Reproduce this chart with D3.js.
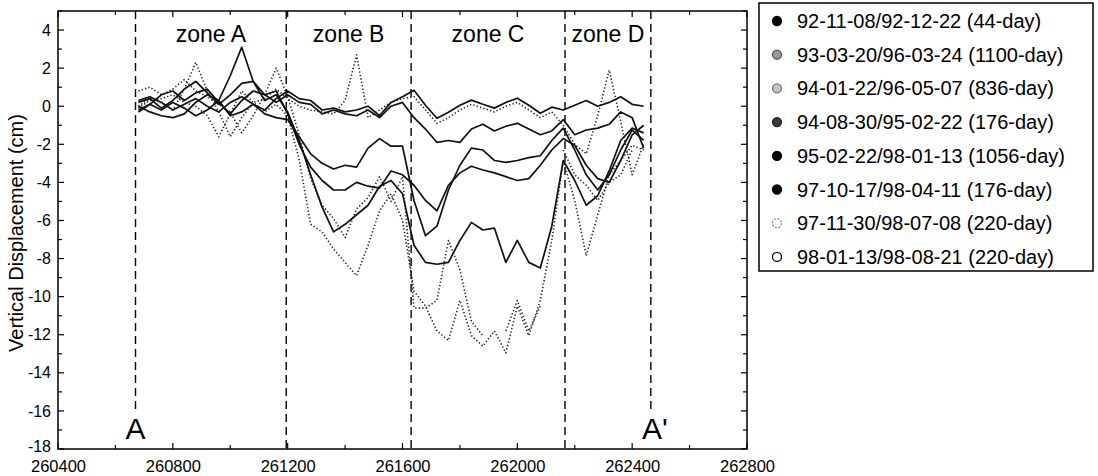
<!DOCTYPE html>
<html>
<head>
<meta charset="utf-8">
<script src="https://cdn.jsdelivr.net/npm/d3@7"></script>
<style>
  body { margin: 0; background: #fff; }
  text { font-family: "Liberation Sans", Arial, sans-serif; fill: #000; }
</style>
</head>
<body>
<script>
// Distance along the profile (m), one sample every 40 m
const distance = d3.range(260680, 262441, 40);

// Vertical displacement (cm) for each interferogram pair
const s1 = [0.3, 0.5, 0.2, -0.2, 0.1, 0.4, 0.0, -0.3, 0.2, 0.5, 0.1, -0.2, 0.4,
  0.8, 0.4, 0.3, -0.2, -0.1, -0.3, -0.2, 0.0, -0.5, 0.2, 0.5,
  0.84, 0.05, -0.63, -0.32, 0.05, 0.32, 0.1, -0.1, 0.2, 0.42, 0.05, -0.37, -0.05, -0.2,
  0.05, 0.3, 0.0, 0.2, 0.5, 0.1, 0.0];
const s2 = [-0.1, 0.3, 0.4, 0.6, 0.2, 0.0, -0.5, -1.6, -0.4, 0.8, 0.2, -0.3, 0.1,
  -0.5, -2.8, -6.2, -6.6, -7.5, -8.2, -8.9, -7.3, -5.5, -4.6, -6.0,
  -9.7, -10.5, -11.8, -12.3, -10.2, -12.05, -12.6, -11.8, -12.95, -10.5, -12.05, -10.2, -7.05, -2.85,
  -4.95, -7.85, -5.7, -3.6, -2.85, -2.05, -2.3];
const s3 = [0.8, 1.0, 0.6, 0.9, 1.4, 0.8, 0.5, 0.1, -0.3, -1.4, -0.5, 0.6, 2.0,
  0.5, -1.5, -3.8, -5.2, -5.9, -6.9, -5.4, -4.8, -3.7, -5.0, -3.7,
  -10.6, -10.6, -10.2, -7.05, -8.6, -11.3, -12.05, null, -11.8, -10.2, -11.8, -10.5, null, -2.3,
  -3.6, -4.15, -4.95, -4.0, -3.6, -2.3, null];
const s4 = [0.2, 0.4, -0.1, 0.3, 0.9, 1.3, 0.7, 0.1, 0.6, 1.2, 1.3, 0.6, 0.8,
  -0.4, -2.0, -3.2, -3.9, -4.4, -4.4, -4.0, -4.2, -4.3, -3.4, -3.6,
  -4.15, -4.95, -5.5, -4.15, -3.5, -3.15, -3.35, -3.5, -3.7, -3.9, -3.8, -3.1, -2.3, -1.7,
  -2.05, -3.1, -3.8, -4.0, -2.85, -1.5, -1.0];
const s5 = [-0.3, 0.1, -0.2, 0.2, -0.1, -0.5, -0.2, 0.3, 1.6, 3.1, 1.3, 0.3, 0.6,
  -0.3, -1.8, -3.6, -5.3, -6.6, -6.2, -5.7, -5.2, -4.2, -3.9, -4.6,
  -7.3, -8.2, -8.3, -8.2, -7.05, -6.1, -6.5, -6.4, -8.2, -7.05, -8.2, -8.5, -6.3, -2.85,
  -3.9, -5.2, -4.7, -3.4, -1.8, -1.15, -1.4];
const s6 = [0.0, -0.3, -0.5, -0.6, -0.4, 0.2, 0.6, 0.3, -0.5, -0.3, 0.1, -0.4, -0.6,
  -0.7, -1.6, -2.5, -3.0, -3.3, -3.1, -3.2, -2.2, -1.7, -2.1, -2.1,
  -4.95, -6.8, -6.3, -4.4, -3.1, -2.2, -2.3, -2.85, -2.95, -2.85, -2.7, -2.6, -1.8, -1.15,
  -2.3, -3.6, -4.4, -3.6, -2.3, -1.25, -1.8];
const s7 = [0.0, 0.4, 0.2, -0.2, 0.9, 2.3, 0.8, -0.3, -1.6, -0.6, 0.2, 0.4, 0.9,
  0.4, 0.0, -0.2, -0.3, -0.4, 0.3, 2.7, -0.6, -0.2, 0.2, 0.4,
  0.5, -0.2, -0.9, -0.6, -0.2, 0.1, -0.1, -0.3, 0.0, 0.2, -0.2, -0.6, -0.3, -1.0,
  -2.0, -2.5, -0.5, 1.9, -0.8, -3.6, -2.0];
const s8 = [-0.2, 0.1, 0.6, 0.8, 0.3, 0.7, 0.9, 0.2, -0.4, 0.3, 0.8, 0.6, 0.2,
  0.6, 0.2, 0.1, -0.4, -0.2, -0.4, -0.5, -0.2, -0.6, 0.0, 0.2,
  -0.6, -1.2, -1.9, -1.8, -1.9, -1.2, -0.95, -1.3, -1.05, -0.9, -1.2, -1.5, -1.3, -0.7,
  -1.5, -1.25, -1.15, -0.95, -0.3, -0.6, -2.2];

const seriesValues = [s1, s2, s3, s4, s5, s6, s7, s8];
const seriesLabels = [
  "92-11-08/92-12-22 (44-day)",
  "93-03-20/96-03-24 (1100-day)",
  "94-01-22/96-05-07 (836-day)",
  "94-08-30/95-02-22 (176-day)",
  "95-02-22/98-01-13 (1056-day)",
  "97-10-17/98-04-11 (176-day)",
  "97-11-30/98-07-08 (220-day)",
  "98-01-13/98-08-21 (220-day)"
];

// Zone boundaries and profile ends (m)
const profileEnds = [260670, 262465];
const zoneBounds = [260670, 261195, 261630, 262166, 262465];
const zoneNames = ["zone A", "zone B", "zone C", "zone D"];

// Axis ticks
const xTicks = [260400, 260800, 261200, 261600, 262000, 262400, 262800];
const xMinor = d3.range(260400, 262801, 200);
const yTicks = d3.range(-18, 5, 2);
const yMinor = d3.range(-18, 6, 1);

// Line and marker styles per series
const dotted = [false, true, true, false, false, false, true, false];
const markerFill = ["#000", "#9a9a9a", "#c4c4c4", "#3a3a3a", "#000", "#000", "#fff", "#fff"];
const markerStroke = ["#000", "#555", "#777", "#222", "#000", "#000", "#888", "#000"];

const width = 1098;
const height = 476;
const plotLeft = 58, plotRight = 747, plotTop = 11, plotBottom = 449;

const svg = d3.select("body")
  .append("svg")
  .attr("width", width)
  .attr("height", height);

const x = d3.scaleLinear().domain([260400, 262800]).range([plotLeft, plotRight]);
const y = d3.scaleLinear().domain([-18, 5]).range([plotBottom, plotTop]);

// Inward ticks on all four sides
const tickGroup = svg.append("g").attr("stroke", "#000").attr("stroke-width", 1.2);
xMinor.forEach(v => {
  const len = xTicks.includes(v) ? 6 : 4;
  tickGroup.append("line").attr("x1", x(v)).attr("x2", x(v)).attr("y1", plotBottom).attr("y2", plotBottom - len);
  tickGroup.append("line").attr("x1", x(v)).attr("x2", x(v)).attr("y1", plotTop).attr("y2", plotTop + len);
});
yMinor.forEach(v => {
  const len = yTicks.includes(v) ? 6 : 4;
  tickGroup.append("line").attr("x1", plotLeft).attr("x2", plotLeft + len).attr("y1", y(v)).attr("y2", y(v));
  tickGroup.append("line").attr("x1", plotRight).attr("x2", plotRight - len).attr("y1", y(v)).attr("y2", y(v));
});

// Axes with labels
const xAxis = svg.append("g")
  .attr("transform", `translate(0,${plotBottom})`)
  .call(d3.axisBottom(x).tickValues(xTicks).tickSize(0).tickPadding(11).tickFormat(d3.format("d")));
xAxis.select(".domain").remove();
xAxis.selectAll("text").style("font-size", "16.5px").attr("font-family", null);

const yAxis = svg.append("g")
  .attr("transform", `translate(${plotLeft},0)`)
  .call(d3.axisLeft(y).tickValues(yTicks).tickSize(0).tickPadding(7).tickFormat(d => String(d)));
yAxis.select(".domain").remove();
yAxis.selectAll("text").style("font-size", "16px").attr("font-family", null)
  .attr("dy", d => d === -18 ? "0.15em" : "0.32em");

// Frame
svg.append("rect")
  .attr("x", plotLeft).attr("y", plotTop)
  .attr("width", plotRight - plotLeft).attr("height", plotBottom - plotTop)
  .attr("fill", "none").attr("stroke", "#000").attr("stroke-width", 1.5);

// Zone boundaries
svg.selectAll(".zone-line")
  .data(zoneBounds)
  .enter()
  .append("line")
  .attr("x1", d => x(d)).attr("x2", d => x(d))
  .attr("y1", plotTop)
  .attr("y2", d => profileEnds.includes(d) ? 412 : plotBottom)
  .attr("stroke", "#000")
  .attr("stroke-width", 1.4)
  .attr("stroke-dasharray", "8,5");

svg.selectAll(".zone-name")
  .data(zoneNames)
  .enter()
  .append("text")
  .attr("x", (d, i) => (x(zoneBounds[i]) + x(zoneBounds[i + 1])) / 2)
  .attr("y", 42)
  .attr("text-anchor", "middle")
  .style("font-size", "23px")
  .text(d => d);

// Profile end labels
svg.append("text").attr("x", x(profileEnds[0])).attr("y", 439)
  .attr("text-anchor", "middle").style("font-size", "30px").text("A");
svg.append("text").attr("x", x(profileEnds[1]) + 4).attr("y", 439)
  .attr("text-anchor", "middle").style("font-size", "30px").text("A'");

// Displacement profiles
const line = d3.line()
  .defined(d => d[1] != null)
  .x(d => x(d[0]))
  .y(d => y(d[1]));

seriesValues.forEach((vals, i) => {
  svg.append("path")
    .datum(distance.map((dx, j) => [dx, vals[j]]))
    .attr("d", line)
    .attr("fill", "none")
    .attr("stroke", dotted[i] ? "#222" : "#111")
    .attr("stroke-width", dotted[i] ? 1.6 : 1.7)
    .attr("stroke-dasharray", dotted[i] ? "1.3,2.2" : null)
    .attr("stroke-linejoin", "round");
});

// Y axis title
svg.append("text")
  .attr("transform", `translate(23,${(plotTop + plotBottom) / 2 + 3}) rotate(-90)`)
  .attr("text-anchor", "middle")
  .style("font-size", "20px")
  .text("Vertical Displacement (cm)");

// Legend
const legend = svg.append("g");
legend.append("rect")
  .attr("x", 759).attr("y", 3)
  .attr("width", 334).attr("height", 268)
  .attr("fill", "#fff").attr("stroke", "#000").attr("stroke-width", 1.5);

const items = legend.selectAll(".item")
  .data(seriesLabels)
  .enter()
  .append("g")
  .attr("transform", (d, i) => `translate(0,${21 + i * 33.7})`);

items.append("circle")
  .attr("cx", 777).attr("cy", 0).attr("r", 4.5)
  .attr("fill", (d, i) => markerFill[i])
  .attr("stroke", (d, i) => markerStroke[i])
  .attr("stroke-width", 1.3)
  .attr("stroke-dasharray", (d, i) => i === 6 ? "2,1.5" : null);

items.append("text")
  .attr("x", 797).attr("y", 7)
  .style("font-size", "20px")
  .text(d => d);
</script>
</body>
</html>
